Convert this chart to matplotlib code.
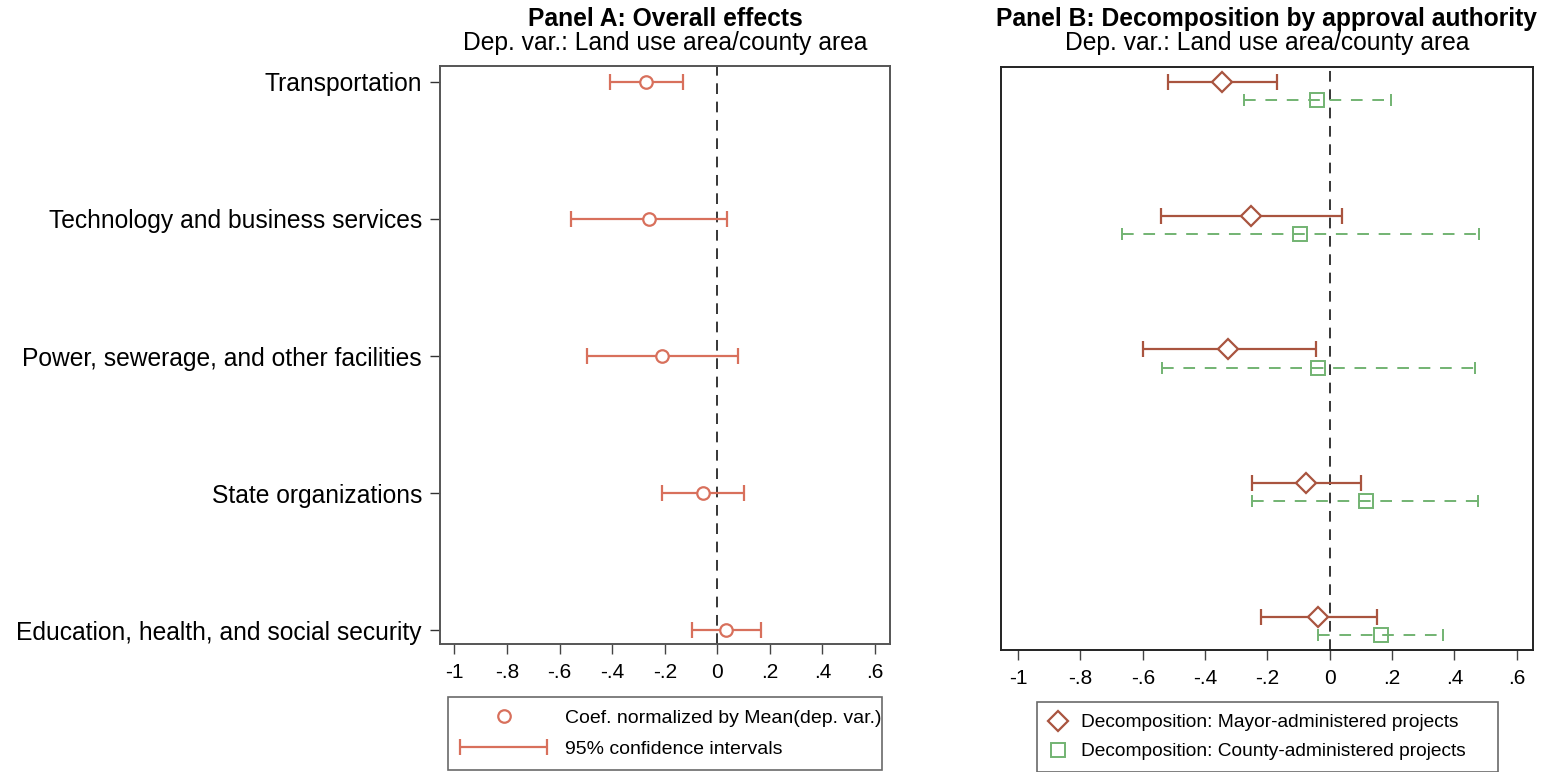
import matplotlib
matplotlib.use("Agg")
import matplotlib.pyplot as plt
from matplotlib.container import ErrorbarContainer
from matplotlib.legend_handler import HandlerErrorbar

plt.rcParams['font.family'] = ['Liberation Sans', 'DejaVu Sans']

categories = ["Transportation",
              "Technology and business services",
              "Power, sewerage, and other facilities",
              "State organizations",
              "Education, health, and social security"]

# Panel A: overall effects
coefA = [-0.27, -0.26, -0.21, -0.053, 0.034]
loA = [-0.41, -0.557, -0.496, -0.21, -0.095]
hiA = [-0.13, 0.038, 0.08, 0.10, 0.168]

# Panel B: decomposition
coefMayor = [-0.345, -0.252, -0.326, -0.077, -0.038]
loMayor = [-0.518, -0.543, -0.60, -0.249, -0.22]
hiMayor = [-0.169, 0.038, -0.045, 0.099, 0.153]
coefCounty = [-0.042, -0.096, -0.038, 0.115, 0.163]
loCounty = [-0.275, -0.668, -0.54, -0.249, -0.038]
hiCounty = [0.195, 0.479, 0.466, 0.476, 0.364]

xticks = [-1, -0.8, -0.6, -0.4, -0.2, 0, 0.2, 0.4, 0.6]
xticklabels = ["-1", "-.8", "-.6", "-.4", "-.2", "0", ".2", ".4", ".6"]

colA = '#D8705C'
colMayor = '#A9543F'
colCounty = '#72B372'

fig = plt.figure(figsize=(15.52, 7.72), dpi=100)
axA = fig.add_axes([440/1552, 1-644/772, 450/1552, (644-66)/772])
axB = fig.add_axes([1001/1552, 1-650/772, 532/1552, (650-67)/772])

pos = list(range(1, len(categories)+1))

# Panel A
ci = axA.errorbar(coefA, pos,
                  xerr=[[c-l for c, l in zip(coefA, loA)], [h-c for c, h in zip(coefA, hiA)]],
                  fmt='none', ecolor=colA, elinewidth=1.6, capsize=6, capthick=1.6,
                  label='95% confidence intervals', zorder=3)
ptA, = axA.plot(coefA, pos, 'o', ms=9, mfc='white', mec=colA, mew=1.6, ls='none',
                label='Coef. normalized by Mean(dep. var.)', zorder=4)
axA.axvline(0, color='black', lw=1.1, ls=(0, (7, 5)), zorder=2)
axA.set_ylim(5.10, 0.885)
axA.set_xlim(-1.055, 0.657)
axA.set_yticks(pos)
axA.set_yticklabels(categories, fontsize=17.7)
axA.tick_params(axis='y', length=7, width=1, pad=6, color='#333333')

# Panel B
posM = [p - 0.0675 for p in pos]
posC = [p + 0.0675 for p in pos]
axB.errorbar(coefMayor, posM,
             xerr=[[c-l for c, l in zip(coefMayor, loMayor)], [h-c for c, h in zip(coefMayor, hiMayor)]],
             fmt='none', ecolor=colMayor, elinewidth=1.6, capsize=6, capthick=1.6, zorder=3)
ebC = axB.errorbar(coefCounty, posC,
                   xerr=[[c-l for c, l in zip(coefCounty, loCounty)], [h-c for c, h in zip(coefCounty, hiCounty)]],
                   fmt='none', ecolor=colCounty, elinewidth=1.4, capsize=4.5, capthick=1.4, zorder=3)
for lc in ebC[2]:
    lc.set_linestyle((0, (6, 5)))
ptM, = axB.plot(coefMayor, posM, 'D', ms=10, mfc='white', mec=colMayor, mew=1.6, ls='none',
                label='Decomposition: Mayor-administered projects', zorder=4)
ptC, = axB.plot(coefCounty, posC, 's', ms=9.5, mfc='none', mec=colCounty, mew=1.4, ls='none',
                label='Decomposition: County-administered projects', zorder=4)
axB.axvline(0, color='black', lw=1.1, ls=(0, (7, 5)), zorder=2)
axB.set_ylim(5.18, 0.82)
axB.set_xlim(-1.055, 0.652)
axB.set_yticks([])

for ax, sc in ((axA, '#555555'), (axB, '#222222')):
    ax.set_xticks(xticks)
    ax.set_xticklabels(xticklabels, fontsize=15)
    ax.tick_params(axis='x', length=7, width=1, pad=7, color='#444444')
    for s in ax.spines.values():
        s.set_color(sc)
        s.set_linewidth(1.4)

# Titles
for ax, t in ((axA, "Panel A: Overall effects"), (axB, "Panel B: Decomposition by approval authority")):
    ax.annotate(t, xy=(0.5, 1-19/772), xycoords=('axes fraction', 'figure fraction'),
                ha='center', va='center', fontsize=17.7, fontweight='bold')
    ax.annotate("Dep. var.: Land use area/county area", xy=(0.5, 1-43/772),
                xycoords=('axes fraction', 'figure fraction'),
                ha='center', va='center', fontsize=17.7)

# Legends
legA = fig.legend(handles=[ptA, ci], loc='upper left',
                  bbox_to_anchor=(448/1552, 1-771/772, (882-448)/1552, (771-697)/772),
                  mode='expand', fontsize=14, handlelength=4.5, handletextpad=0.9,
                  handler_map={ErrorbarContainer: HandlerErrorbar(xerr_size=2.24)},
                  frameon=True, fancybox=False, edgecolor='#444444', borderpad=0.62,
                  labelspacing=0.68, borderaxespad=0)
legA.get_frame().set_linewidth(1.2)
legB = fig.legend(handles=[ptM, ptC], loc='upper left',
                  bbox_to_anchor=(1037/1552, 1-771/772, (1498-1037)/1552, (771-702)/772),
                  mode='expand', fontsize=13.8, handlelength=1.0,
                  handletextpad=0.7, frameon=True, fancybox=False, edgecolor='#444444',
                  borderpad=0.62, labelspacing=0.6, borderaxespad=0)
legB.get_frame().set_linewidth(1.2)

fig.savefig("out.png", dpi=100)
